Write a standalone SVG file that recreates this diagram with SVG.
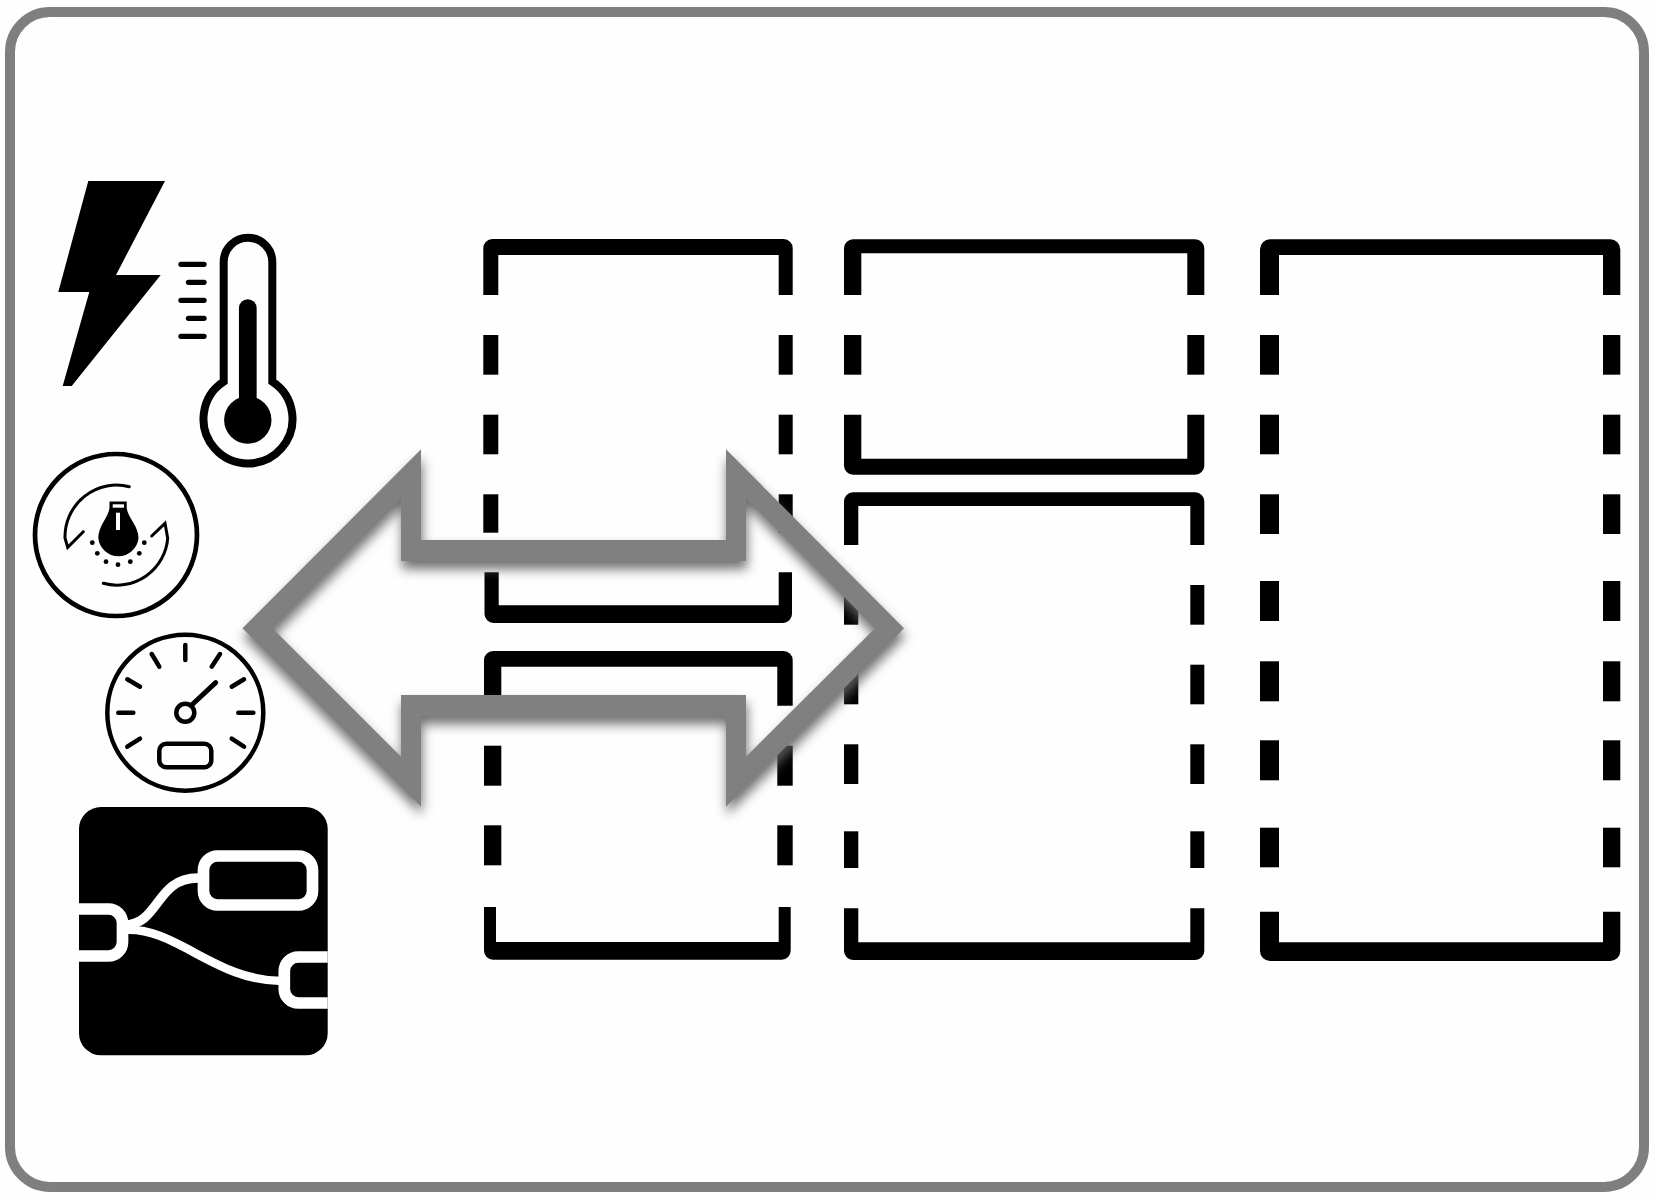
<svg xmlns="http://www.w3.org/2000/svg" width="1656" height="1200" viewBox="0 0 1656 1200">
<style>
.k{fill:#000}
.ln{fill:none;stroke:#000;stroke-linecap:round;stroke-linejoin:miter}
.wh{fill:none;stroke:#fff}
</style>
<defs>
<filter id="sh" x="-10%" y="-10%" width="120%" height="125%" color-interpolation-filters="sRGB">
<feDropShadow dx="1" dy="8" stdDeviation="6" flood-color="#606060" flood-opacity="0.9"/>
</filter>
<clipPath id="nrclip"><rect x="79" y="807" width="248.7" height="248.3" rx="22"/></clipPath>
</defs>
<rect width="1656" height="1200" fill="#fefefe"/>
<rect id="frame" x="10" y="12" width="1634" height="1175" rx="40" fill="#fefefe" stroke="#7f7f7f" stroke-width="10"/>

<g id="icon-bolt"><polygon class="k" points="88.3,181 165,181 116,275 160.7,275 71.7,386 62.7,386 89.3,292 58.3,292"/></g>

<g id="icon-thermometer">
<path class="ln" stroke-width="8" d="M223.7,381.7V262a24.3,24.3 0 0 1 48.6,0V381.7A44.5,44.5 0 1 1 223.7,381.7Z"/>
<line class="ln" x1="247.8" y1="308" x2="247.8" y2="420" stroke-width="17.7"/>
<circle class="k" cx="247.8" cy="420" r="23.7"/>
<g class="ln" stroke-width="5.3">
<line x1="181" y1="264.3" x2="204" y2="264.3"/>
<line x1="188.5" y1="282.3" x2="204" y2="282.3"/>
<line x1="181" y1="300.3" x2="204" y2="300.3"/>
<line x1="188.5" y1="318.3" x2="204" y2="318.3"/>
<line x1="181" y1="336.3" x2="204" y2="336.3"/>
</g>
</g>

<g id="icon-knob">
<circle class="ln" cx="116" cy="535" r="81" stroke-width="4.7"/>
<path class="ln" stroke-width="3" d="M129.3,486.7A51.7,51.7 0 0 0 65,538L67.7,547.3L83.3,531.7"/>
<path class="ln" stroke-width="3" d="M103.3,583.3A51,51 0 0 0 167.7,538.3L165,523.3L151.7,536"/>
<path class="k" d="M109.5,501.5H126.7V508C128,518 138.5,526 138.5,538A20.2,20.2 0 0 1 98.3,538C98.3,526 108,518 109.5,508Z"/>
<rect x="112.7" y="504.3" width="11.3" height="3.4" fill="#fff"/>
<rect x="116" y="512.7" width="4" height="17.3" fill="#fff"/>
<g class="k">
<circle cx="92.3" cy="542.7" r="2.4"/><circle cx="97.3" cy="553.3" r="2.4"/><circle cx="106" cy="561.7" r="2.4"/><circle cx="118" cy="564.7" r="2.4"/><circle cx="130.3" cy="561.7" r="2.4"/><circle cx="139.3" cy="553.3" r="2.4"/><circle cx="144.3" cy="542.7" r="2.4"/>
</g>
</g>

<g id="icon-gauge">
<circle class="ln" cx="185.3" cy="712.7" r="78" stroke-width="4.5"/>
<g class="ln" stroke-width="4.5">
<line x1="185.3" y1="645" x2="185.3" y2="660"/>
<line x1="151.7" y1="654" x2="159.3" y2="666.7"/>
<line x1="220" y1="654" x2="211.7" y2="666.7"/>
<line x1="127.3" y1="679.3" x2="140" y2="686.7"/>
<line x1="244" y1="679.3" x2="231.7" y2="686.7"/>
<line x1="118.3" y1="712.7" x2="133.3" y2="712.7"/>
<line x1="238.3" y1="712.7" x2="253.3" y2="712.7"/>
<line x1="127.3" y1="746.7" x2="140" y2="738.7"/>
<line x1="244" y1="746.7" x2="231.7" y2="738.7"/>
<line x1="191.7" y1="705" x2="215.7" y2="682.7" stroke-width="5"/>
</g>
<circle class="ln" cx="185.3" cy="712.7" r="9" stroke-width="4.5"/>
<rect class="ln" x="159.3" y="743.7" width="52" height="23.6" rx="7" stroke-width="4.5"/>
</g>

<g id="icon-flow">
<rect class="k" x="79" y="807" width="248.7" height="248.3" rx="22"/>
<g clip-path="url(#nrclip)">
<rect class="wh" x="203.5" y="856" width="109" height="49" rx="14" stroke-width="11.7"/>
<rect class="wh" x="60" y="909" width="62.5" height="47" rx="14" stroke-width="11.7"/>
<rect class="wh" x="284.3" y="957" width="70" height="46" rx="14" stroke-width="11.7"/>
<path class="wh" stroke-width="9.5" d="M124,925C160,925 155,878 198,878"/>
<path class="wh" stroke-width="8.5" d="M124,930C175,926 215,981 282,981"/>
</g>
</g>

<g id="box-a">
<path class="k" d="M483.3,295V248a9,9 0 0 1 9,-9H783.7a9,9 0 0 1 9,9V295H778.7V255H498.3V295Z"/>
<rect class="k" x="483.3" y="335" width="15" height="39.7"/><rect class="k" x="778.7" y="335" width="14" height="39.7"/>
<rect class="k" x="483.3" y="414.7" width="15" height="39.6"/><rect class="k" x="778.7" y="414.7" width="14" height="39.6"/>
<rect class="k" x="483.3" y="494.3" width="15" height="38.4"/><rect class="k" x="778.7" y="494.3" width="14" height="38.4"/>
<path class="k" d="M484.5,572.3V614a9,9 0 0 0 9,9H783a9,9 0 0 0 9,-9V572.3H778.7V605.3H498.7V572.3Z"/>
</g>

<g id="box-b">
<path class="k" d="M484,705.7V660a9,9 0 0 1 9,-9H783.7a9,9 0 0 1 9,9V705.7H777.3V666.7H501.3V705.7Z"/>
<rect class="k" x="484" y="745.7" width="17.3" height="40"/><rect class="k" x="777.3" y="745.7" width="15.4" height="40"/>
<rect class="k" x="484" y="825.3" width="17.3" height="40"/><rect class="k" x="777.3" y="825.3" width="15.4" height="40"/>
<path class="k" d="M484,907V950.7a9,9 0 0 0 9,9H781.7a9,9 0 0 0 9,-9V907H778.7V942H496V907Z"/>
</g>

<g id="box-c">
<path class="k" d="M844,295V248.3a9,9 0 0 1 9,-9H1195.3a9,9 0 0 1 9,9V295H1187.3V253.3H861.3V295Z"/>
<rect class="k" x="844" y="335" width="17.3" height="39.7"/><rect class="k" x="1187.3" y="335" width="17" height="39.7"/>
<path class="k" d="M844,414.7V465.7a9,9 0 0 0 9,9H1195.3a9,9 0 0 0 9,-9V414.7H1187.3V458.7H861.3V414.7Z"/>
</g>

<g id="box-d">
<path class="k" d="M844,545V501.3a9,9 0 0 1 9,-9H1195.3a9,9 0 0 1 9,9V545H1190.3V506H858.3V545Z"/>
<rect class="k" x="844" y="585" width="14.3" height="39.7"/><rect class="k" x="1190.3" y="585" width="14" height="39.7"/>
<rect class="k" x="844" y="664.7" width="14.3" height="39.6"/><rect class="k" x="1190.3" y="664.7" width="14" height="39.6"/>
<rect class="k" x="844" y="744.3" width="14.3" height="39.7"/><rect class="k" x="1190.3" y="744.3" width="14" height="39.7"/>
<rect class="k" x="844" y="831.3" width="14.3" height="36.7"/><rect class="k" x="1190.3" y="831.3" width="14" height="36.7"/>
<path class="k" d="M844,908.3V951a9,9 0 0 0 9,9H1195.3a9,9 0 0 0 9,-9V908.3H1190.3V942.3H858.3V908.3Z"/>
</g>

<g id="box-e">
<path class="k" d="M1260,295V249.3a10,10 0 0 1 10,-10H1610.3a10,10 0 0 1 10,10V295H1603V255H1279V295Z"/>
<rect class="k" x="1260" y="335" width="19" height="39.7"/><rect class="k" x="1603" y="335" width="17.3" height="39.7"/>
<rect class="k" x="1260" y="414.7" width="19" height="39.6"/><rect class="k" x="1603" y="414.7" width="17.3" height="39.6"/>
<rect class="k" x="1260" y="494.3" width="19" height="39.7"/><rect class="k" x="1603" y="494.3" width="17.3" height="39.7"/>
<rect class="k" x="1260" y="581" width="19" height="40"/><rect class="k" x="1603" y="581" width="17.3" height="40"/>
<rect class="k" x="1260" y="661.3" width="19" height="40"/><rect class="k" x="1603" y="661.3" width="17.3" height="40"/>
<rect class="k" x="1260" y="740.3" width="19" height="40"/><rect class="k" x="1603" y="740.3" width="17.3" height="40"/>
<rect class="k" x="1260" y="827.7" width="19" height="39.6"/><rect class="k" x="1603" y="827.7" width="17.3" height="39.6"/>
<path class="k" d="M1260,911.7V951a10,10 0 0 0 10,10H1610.3a10,10 0 0 0 10,-10V911.7H1603V942.3H1279V911.7Z"/>
</g>

<g id="connectors">
<path filter="url(#sh)" fill="#808080" fill-rule="evenodd" d="M242.5,628.3L421,449.3V540H726V449.3L904,628.3L726,806.7V716H421V806.7ZM272.4,628.3L401,756.7V695H746V756.7L875,628.3L746,498.3V561H401V498.3Z"/>
</g>
</svg>
